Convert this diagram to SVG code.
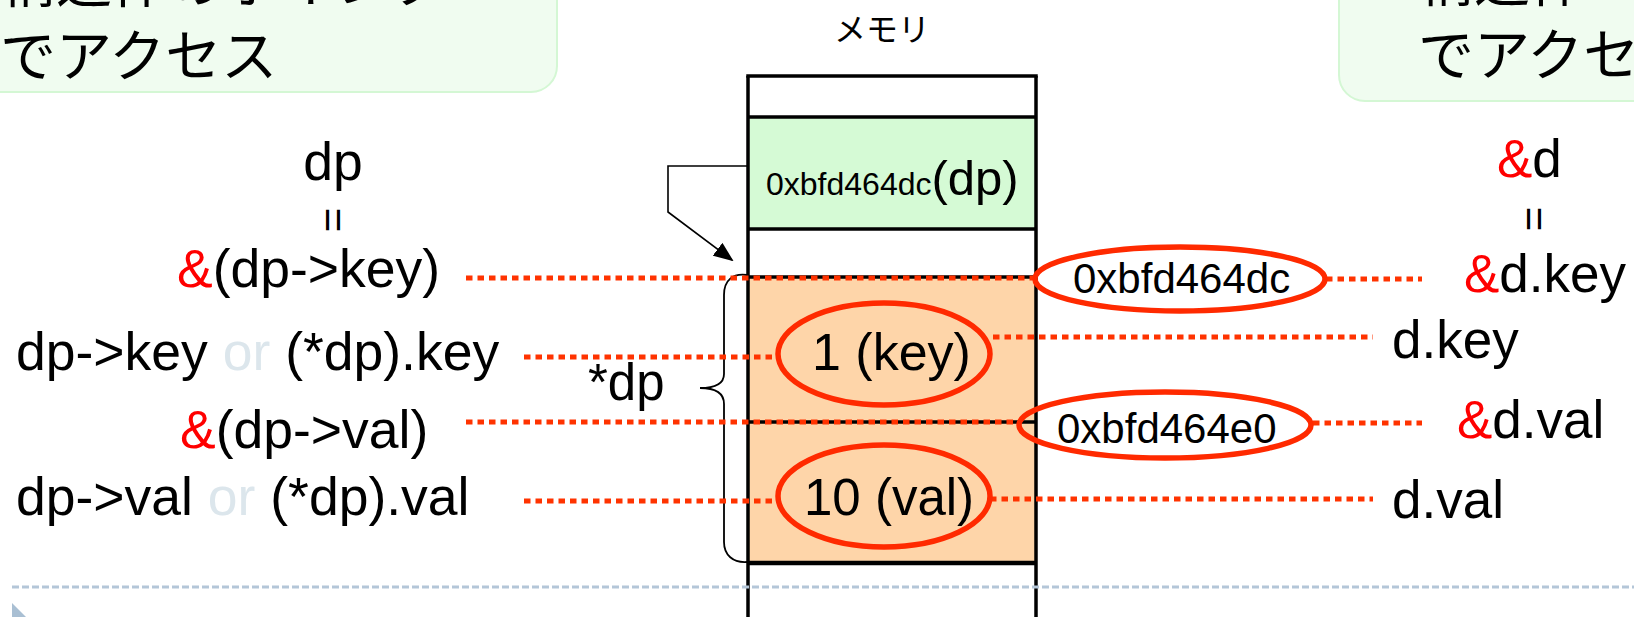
<svg xmlns="http://www.w3.org/2000/svg" width="1634" height="617" viewBox="0 0 1634 617">
<defs>
<style>
.t{font-family:"Liberation Sans",Arial,sans-serif;fill:#000}
.j{font-family:"Noto Sans CJK JP","Noto Sans",sans-serif;fill:#000}
.amp{fill:#ff0000}
.or{fill:#dce6ec}
.dot{stroke:#ff3300;stroke-width:5;stroke-dasharray:6.5 5;fill:none}
.ring{stroke:#ff2a00;stroke-width:5.5;fill:none}
.cell{stroke:#000;stroke-width:3.5}
.callout{fill:#f0fcf0;stroke:#d4f7d4;stroke-width:2}
</style>
<marker id="ahb" markerWidth="20" markerHeight="16" refX="18" refY="8" orient="auto" markerUnits="userSpaceOnUse" viewBox="0 0 20 16">
<path d="M0,0 L20,8 L0,16 z" fill="#000"/>
</marker>
</defs>
<rect width="1634" height="617" fill="#fff"/>

<g id="callout-left">
<rect class="callout" x="-30" y="-30" width="587" height="122" rx="26"/>
<text class="j" x="0" y="2" font-size="56">構造体のポインタ</text>
<text class="j" x="0" y="76" font-size="56">でアクセス</text>
</g>

<g id="callout-right">
<rect class="callout" x="1339" y="-30" width="330" height="131" rx="26"/>
<text class="j" x="1418" y="1" font-size="56">構造体</text>
<text class="j" x="1418" y="75" font-size="56">でアクセス</text>
</g>

<g id="memory">
<text class="j" x="882" y="41" font-size="32" text-anchor="middle">メモリ</text>
<rect x="748" y="117" width="288" height="112" fill="#d5fad5"/>
<rect x="748" y="277" width="288" height="286" fill="#fed5a9"/>
<g class="cell">
<line x1="748" y1="76" x2="748" y2="620"/>
<line x1="1036" y1="76" x2="1036" y2="620"/>
<line x1="746.25" y1="76" x2="1037.75" y2="76"/>
<line x1="748" y1="117" x2="1036" y2="117"/>
<line x1="748" y1="229" x2="1036" y2="229"/>
<line x1="748" y1="277" x2="1036" y2="277"/>
<line x1="748" y1="422" x2="1036" y2="422"/>
<line x1="748" y1="563" x2="1036" y2="563" stroke-width="4.5"/>
</g>
<text class="t" x="766" y="195"><tspan font-size="32">0xbfd464dc</tspan><tspan font-size="49">(dp)</tspan></text>
</g>

<g id="struct-brace">
<path d="M747,275 C733,273 724,280 724,295 L724,374 C724,385 713,388 700,388 C713,388 724,392 724,404 L724,542 C724,555 733,563 747,562" fill="none" stroke="#000" stroke-width="1.8"/>
<text class="t" x="588" y="400" font-size="51">*dp</text>
</g>

<g id="connectors">
<polyline points="747,166 668,166 668,212 732,260" fill="none" stroke="#000" stroke-width="1.6" marker-end="url(#ahb)"/>
<line class="dot" x1="466" y1="278" x2="1035" y2="278"/>
<line class="dot" x1="1326" y1="279" x2="1422" y2="279"/>
<line class="dot" x1="524" y1="357" x2="778" y2="357"/>
<line class="dot" x1="993" y1="337" x2="1373" y2="337"/>
<line class="dot" x1="466" y1="422" x2="1019" y2="422"/>
<line class="dot" x1="1313" y1="423" x2="1422" y2="423"/>
<line class="dot" x1="524" y1="501" x2="778" y2="501"/>
<line class="dot" x1="990" y1="499" x2="1373" y2="499"/>
</g>

<g id="addr-key">
<ellipse class="ring" cx="1180" cy="279" rx="145" ry="32"/>
<text class="t" x="1073" y="293" font-size="42">0xbfd464dc</text>
</g>
<g id="addr-val">
<ellipse class="ring" cx="1165" cy="425" rx="146" ry="33"/>
<text class="t" x="1057" y="443" font-size="42">0xbfd464e0</text>
</g>
<g id="val-key">
<ellipse class="ring" cx="884" cy="354" rx="106" ry="51"/>
<text class="t" x="812" y="370" font-size="52">1 (key)</text>
</g>
<g id="val-val">
<ellipse class="ring" cx="884" cy="496" rx="106" ry="51"/>
<text class="t" x="804" y="515" font-size="51">10 (val)</text>
</g>

<g id="left-labels" font-size="53.5">
<text class="t" x="333" y="180" text-anchor="middle">dp</text>
<text class="t" font-size="42" transform="translate(333,220) rotate(90)" text-anchor="middle" dominant-baseline="central">=</text>
<text class="t" x="177" y="287"><tspan class="amp">&amp;</tspan>(dp-&gt;key)</text>
<text class="t" x="16" y="370">dp-&gt;key <tspan class="or">or</tspan> (*dp).key</text>
<text class="t" x="180" y="448"><tspan class="amp">&amp;</tspan>(dp-&gt;val)</text>
<text class="t" x="16" y="515">dp-&gt;val <tspan class="or">or</tspan> (*dp).val</text>
</g>

<g id="right-labels" font-size="53">
<text class="t" x="1497" y="177"><tspan class="amp">&amp;</tspan>d</text>
<text class="t" font-size="42" transform="translate(1534,219) rotate(90)" text-anchor="middle" dominant-baseline="central">=</text>
<text class="t" x="1464" y="292"><tspan class="amp">&amp;</tspan>d.key</text>
<text class="t" x="1392" y="358">d.key</text>
<text class="t" x="1457" y="438"><tspan class="amp">&amp;</tspan>d.val</text>
<text class="t" x="1392" y="518">d.val</text>
</g>

<g id="footer">
<line x1="12" y1="587" x2="1634" y2="587" stroke="#b4c6d8" stroke-width="3" stroke-dasharray="7 3"/>
<polygon points="12,603 40,631 12,659" fill="#a9bfd3"/>
</g>
</svg>
